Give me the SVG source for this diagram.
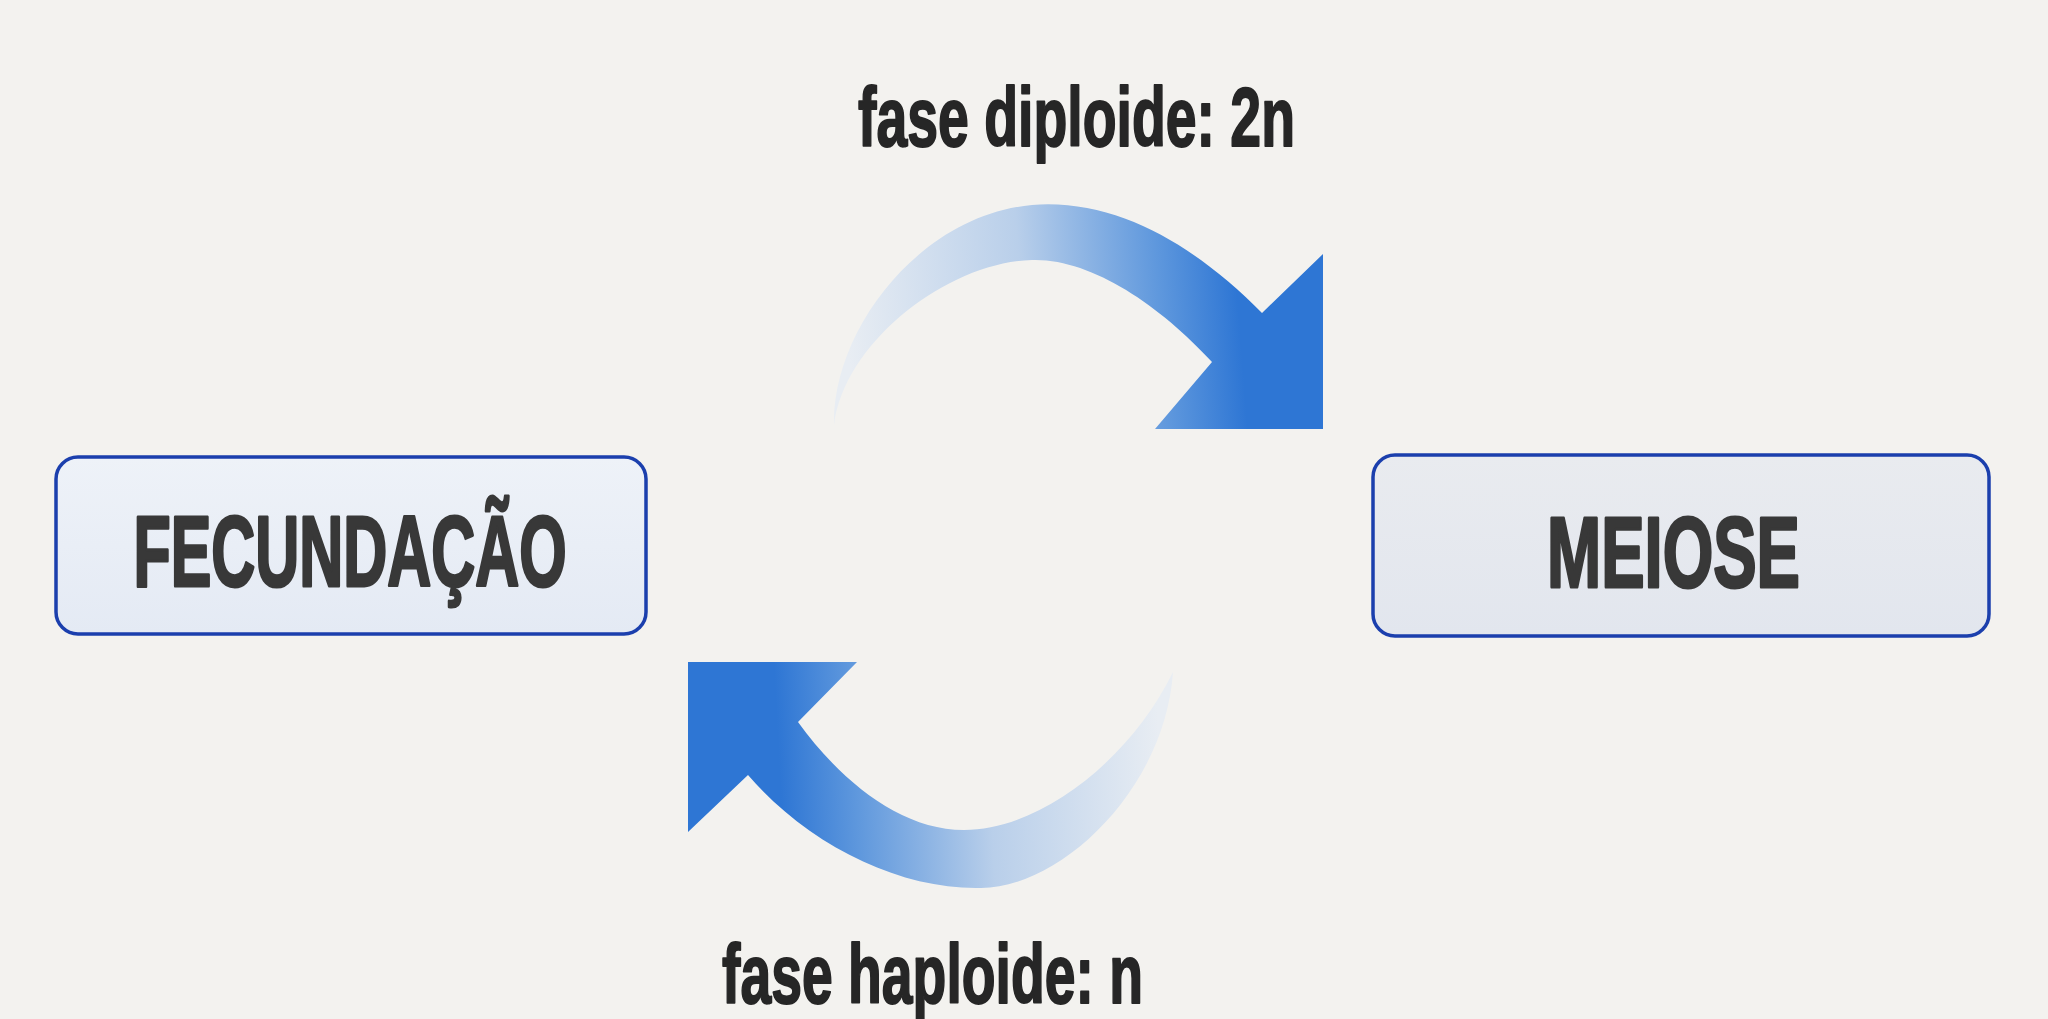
<svg xmlns="http://www.w3.org/2000/svg" width="2048" height="1019" viewBox="0 0 2048 1019">
  <style>
    .box { stroke: #1b3fad; stroke-width: 3.5; }
    .label { font-family: "Liberation Sans", Arial, sans-serif; font-weight: bold; font-size: 100px; fill: #383838; stroke: #383838; stroke-width: 3; stroke-linejoin: round; text-anchor: middle; }
    .phase { font-family: "Liberation Sans", Arial, sans-serif; font-weight: bold; font-size: 84px; fill: #262626; stroke: #262626; stroke-width: 2; stroke-linejoin: round; }
  </style>
  <defs>
    <linearGradient id="boxFillA" x1="0" y1="0" x2="0" y2="1">
      <stop offset="0" stop-color="#eef2f8"/>
      <stop offset="1" stop-color="#e4eaf4"/>
    </linearGradient>
    <linearGradient id="boxFillB" x1="0" y1="0" x2="0" y2="1">
      <stop offset="0" stop-color="#e9ebef"/>
      <stop offset="1" stop-color="#e2e6ee"/>
    </linearGradient>
    <linearGradient id="gradTop" gradientUnits="userSpaceOnUse" x1="850" y1="360" x2="1240" y2="330">
      <stop offset="0" stop-color="#e8edf3"/>
      <stop offset="0.45" stop-color="#b9cfea"/>
      <stop offset="0.8" stop-color="#5f98dd"/>
      <stop offset="1" stop-color="#2e76d4"/>
    </linearGradient>
    <linearGradient id="gradBottom" gradientUnits="userSpaceOnUse" x1="1160" y1="760" x2="780" y2="780">
      <stop offset="0" stop-color="#e8edf3"/>
      <stop offset="0.45" stop-color="#b9cfea"/>
      <stop offset="0.8" stop-color="#5f98dd"/>
      <stop offset="1" stop-color="#2e76d4"/>
    </linearGradient>
  </defs>

  <rect x="0" y="0" width="2048" height="1019" fill="#f3f2ef"/>

  <g id="node-fecundacao">
    <rect class="box" x="56" y="457" width="590" height="177" rx="22" fill="url(#boxFillA)"/>
    <text class="label" x="350" y="586" textLength="433" lengthAdjust="spacingAndGlyphs">FECUNDAÇÃO</text>
  </g>

  <g id="node-meiose">
    <rect class="box" x="1373" y="455" width="616" height="181" rx="22" fill="url(#boxFillB)"/>
    <text class="label" x="1673.5" y="587" textLength="253" lengthAdjust="spacingAndGlyphs">MEIOSE</text>
  </g>

  <g id="connectors">
    <path id="arrow-top" fill="url(#gradTop)"
      d="M834,425 C832,330 920,215 1032,205 C1120,198 1200,250 1262,313 L1323,254 L1323,429 L1155,429 L1212,362 C1160,305 1090,258 1032,260 C950,262 845,340 834,425 Z"/>
    <path id="arrow-bottom" fill="url(#gradBottom)"
      d="M1173,672 C1165,790 1060,888 981,888 C900,890 808,845 748,775 L688,832 L688,662 L857,662 L798,722 C840,780 900,830 964,830 C1040,830 1130,760 1173,672 Z"/>
  </g>

  <g id="label-diploide">
    <text class="phase" x="858" y="146" textLength="437" lengthAdjust="spacingAndGlyphs">fase diploide: 2n</text>
  </g>
  <g id="label-haploide">
    <text class="phase" x="722" y="1003" textLength="421" lengthAdjust="spacingAndGlyphs">fase haploide: n</text>
  </g>
</svg>
